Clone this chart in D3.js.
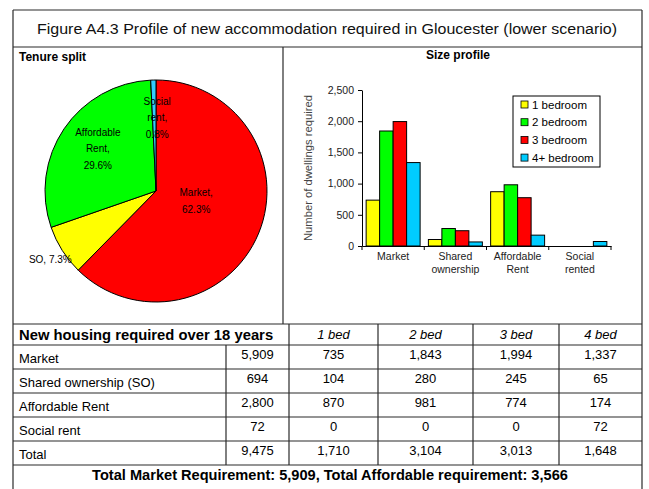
<!DOCTYPE html>
<html lang="en">
<head>
<meta charset="UTF-8">
<title>Figure A4.3</title>
<script src="https://d3js.org/d3.v7.min.js"></script>
<style>
    body { margin: 0; background: #fff; font-family: "Liberation Sans", Arial, sans-serif; }
    svg text { font-family: "Liberation Sans", Arial, sans-serif; fill: #000; }
    .grid line { stroke: #2a2a2a; stroke-width: 1.2; }
    .axis path, .axis line { stroke: #000; }
</style>
</head>
<body>
<div id="chart"></div>
<script>
    // Tenure split (pie) + table rows
    const tenures = ["Market", "Shared ownership (SO)", "Affordable Rent", "Social rent"];
    const tenureTotals = [5909, 694, 2800, 72];
    const pieNames = ["Market,", "SO, 7.3%", "Affordable|Rent,", "Social|rent,"];
    const piePct = ["62.3%", "", "29.6%", "0.8%"];
    const pieColors = ["#ff0000", "#ffff00", "#00ff00", "#33ccff"];

    // Size profile by bedrooms
    const bedHeads = ["1 bed", "2 bed", "3 bed", "4 bed"];
    const oneBed = [735, 104, 870, 0];
    const twoBed = [1843, 280, 981, 0];
    const threeBed = [1994, 245, 774, 0];
    const fourBed = [1337, 65, 174, 72];
    const bedTotals = [1710, 3104, 3013, 1648];
    const grandTotal = 9475;

    const barCats = ["Market", "Shared|ownership", "Affordable|Rent", "Social|rented"];
    const legendNames = ["1 bedroom", "2 bedroom", "3 bedroom", "4+ bedroom"];
    const barColors = ["#ffff00", "#00ff00", "#ff0000", "#00ccff"];
    const yTicks = [0, 500, 1000, 1500, 2000, 2500];

    const W = 649, H = 489;
    const svg = d3.select("#chart").append("svg").attr("width", W).attr("height", H);
    const fmt = d3.format(",");

    // ---- frame ----
    const L = 13, R = 642, frameTop = 10, titleBot = 47, midX = 283, tableTop = 324;
    const rowLines = [324, 345, 369, 393, 417, 441, 465];
    const colLines = [226, 289, 378, 473, 559];

    const grid = svg.append("g").attr("class", "grid");
    grid.append("line").attr("x1", L).attr("x2", R).attr("y1", frameTop).attr("y2", frameTop);
    grid.append("line").attr("x1", L).attr("x2", L).attr("y1", frameTop).attr("y2", H);
    grid.append("line").attr("x1", R).attr("x2", R).attr("y1", frameTop).attr("y2", H);
    grid.append("line").attr("x1", L).attr("x2", R).attr("y1", titleBot).attr("y2", titleBot);
    grid.append("line").attr("x1", midX).attr("x2", midX).attr("y1", titleBot).attr("y2", tableTop);
    rowLines.forEach(y => grid.append("line").attr("x1", L).attr("x2", R).attr("y1", y).attr("y2", y));
    colLines.forEach((x, i) => grid.append("line").attr("x1", x).attr("x2", x)
        .attr("y1", i === 0 ? rowLines[1] : rowLines[0]).attr("y2", rowLines[6]));

    svg.append("text").attr("x", 327).attr("y", 34).attr("text-anchor", "middle")
        .style("font-size", "15.5px").style("fill", "#111")
        .attr("textLength", 580).attr("lengthAdjust", "spacingAndGlyphs")
        .text("Figure A4.3 Profile of new accommodation required in Gloucester (lower scenario)");
    svg.append("text").attr("x", 19).attr("y", 61).style("font-size", "12px").style("font-weight", "bold")
        .text("Tenure split");
    svg.append("text").attr("x", 458).attr("y", 59).attr("text-anchor", "middle")
        .style("font-size", "12px").style("font-weight", "bold").text("Size profile");

    // ---- pie ----
    const cx = 156, cy = 191, r = 111;
    const pie = d3.pie().sort(null).value(d => d)(tenureTotals);
    const arc = d3.arc().innerRadius(0).outerRadius(r);
    const pg = svg.append("g").attr("transform", `translate(${cx},${cy})`);
    pg.selectAll("path").data(pie).enter().append("path")
        .attr("d", arc).attr("fill", (d, i) => pieColors[i])
        .attr("stroke", "#000").attr("stroke-width", 1);

    const labelR = [0.43, 1.02, 0.6, 0.68];
    const labelShift = [[-4, -13], [-10, 11], [-3, -18], [3, -11]];
    pie.forEach((d, i) => {
        const a = (d.startAngle + d.endAngle) / 2;
        const lx = Math.sin(a) * r * labelR[i] + labelShift[i][0];
        const ly = -Math.cos(a) * r * labelR[i] + labelShift[i][1];
        const lines = pieNames[i].split("|").concat(piePct[i] ? [piePct[i]] : []);
        const t = pg.append("text").attr("text-anchor", "middle").style("font-size", "10px");
        lines.forEach((s, k) => t.append("tspan").attr("x", lx).attr("y", ly + k * 16.5).text(s));
    });

    // ---- bar chart ----
    const bx0 = 362, bx1 = 611, by0 = 246, by1 = 90;
    const series = [oneBed, twoBed, threeBed, fourBed];
    const x0 = d3.scaleBand().domain(barCats).range([bx0, bx1]).paddingInner(0.133).paddingOuter(0.0665);
    const x1 = d3.scaleBand().domain(d3.range(4)).range([0, x0.bandwidth()]);
    const y = d3.scaleLinear().domain([0, 2500]).range([by0, by1]);

    const bars = svg.append("g");
    barCats.forEach((c, ci) => {
        series.forEach((s, si) => {
            if (s[ci] <= 0) return;
            bars.append("rect")
                .attr("x", x0(c) + x1(si)).attr("width", x1.bandwidth())
                .attr("y", y(s[ci])).attr("height", y(0) - y(s[ci]))
                .attr("fill", barColors[si]).attr("stroke", "#000").attr("stroke-width", 1);
        });
    });

    svg.append("g").attr("class", "axis").attr("transform", `translate(${bx0},0)`)
        .call(d3.axisLeft(y).tickValues(yTicks).tickSize(4).tickSizeOuter(0).tickFormat(fmt))
        .call(g => g.selectAll("text").style("font-size", "10.5px").style("fill", "#222").attr("x", -8));
    const xa = svg.append("g").attr("class", "axis").attr("transform", `translate(0,${by0})`)
        .call(d3.axisBottom(x0).tickSize(0).tickSizeOuter(0));
    xa.selectAll(".tick text").remove();
    d3.range(barCats.length + 1).forEach(i => {
        const tx = bx0 + i * x0.step();
        xa.append("line").attr("x1", tx).attr("x2", tx).attr("y1", 0).attr("y2", 4).attr("stroke", "#000");
    });
    barCats.forEach(c => {
        const t = svg.append("text").attr("text-anchor", "middle").style("font-size", "10.5px").style("fill", "#222");
        c.split("|").forEach((s, k) => t.append("tspan")
            .attr("x", x0(c) + x0.bandwidth() / 2).attr("y", by0 + 14 + k * 13).text(s));
    });
    svg.append("text").attr("transform", `translate(312,${(by0 + by1) / 2}) rotate(-90)`)
        .attr("text-anchor", "middle").style("font-size", "10.5px").style("fill", "#444")
        .attr("textLength", 146).attr("lengthAdjust", "spacingAndGlyphs")
        .text("Number of dwellings required");

    // legend
    const lg = svg.append("g").attr("transform", "translate(513,96)");
    lg.append("rect").attr("width", 87).attr("height", 71).attr("fill", "#fff").attr("stroke", "#000");
    legendNames.forEach((n, i) => {
        lg.append("rect").attr("x", 8).attr("y", 5 + i * 17.7).attr("width", 7).attr("height", 7)
            .attr("fill", barColors[i]).attr("stroke", "#000").attr("stroke-width", 0.8);
        lg.append("text").attr("x", 19).attr("y", 12.5 + i * 17.7).style("font-size", "11.5px").text(n);
    });

    // ---- table ----
    const colMid = i => (colLines[i] + colLines[i + 1]) / 2;
    svg.append("text").attr("x", 19).attr("y", 340).style("font-size", "14.8px").style("font-weight", "bold")
        .text("New housing required over 18 years");
    bedHeads.forEach((h, i) => svg.append("text").attr("x", i < 3 ? colMid(i + 1) : (colLines[4] + R) / 2)
        .attr("y", 339).attr("text-anchor", "middle").style("font-size", "13px").style("font-style", "italic").text(h));

    const rowLabels = tenures.concat(["Total"]);
    const rowTotals = tenureTotals.concat([grandTotal]);
    const bedRows = [0, 1, 2, 3].map(k => series.map(s => s[k])).concat([bedTotals]);
    const cellX = [colMid(0), colMid(1), colMid(2), colMid(3), (colLines[4] + R) / 2];
    rowLabels.forEach((lab, k) => {
        const yTop = rowLines[k + 1];
        svg.append("text").attr("x", 19).attr("y", yTop + 17.5).style("font-size", "13px").text(lab);
        svg.append("text").attr("x", cellX[0]).attr("y", yTop + 13.5).attr("text-anchor", "middle")
            .style("font-size", "13px").text(fmt(rowTotals[k]));
        bedRows[k].forEach((v, j) => svg.append("text").attr("x", cellX[j + 1]).attr("y", yTop + 13.5)
            .attr("text-anchor", "middle").style("font-size", "13px").text(fmt(v)));
    });

    svg.append("text").attr("x", 330).attr("y", 480).attr("text-anchor", "middle")
        .style("font-size", "14.6px").style("font-weight", "bold")
        .text(`Total Market Requirement: ${fmt(tenureTotals[0])}, Total Affordable requirement: ${fmt(d3.sum(tenureTotals.slice(1)))}`);
</script>
</body>
</html>
